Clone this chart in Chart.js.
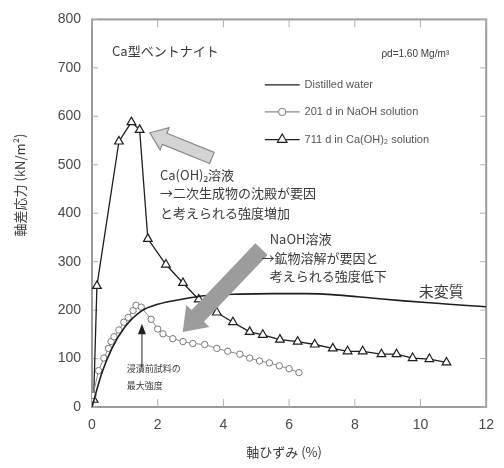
<!DOCTYPE html>
<html>
<head>
<meta charset="utf-8">
<script src="https://cdn.jsdelivr.net/npm/chart.js@4/dist/chart.umd.min.js"></script>
<style>
  html, body { margin: 0; padding: 0; background: #fff; }
  #wrap { width: 504px; height: 468px; }
</style>
</head>
<body>
<div id="wrap"><canvas id="c" width="504" height="468"></canvas></div>
<script>
// Axial strain (%) and deviator stress (kN/m²) for Ca-type bentonite
const waterStrain = [0, 0.3, 0.6, 1.0, 1.5, 2.0, 2.7, 3.5, 4.5, 5.5, 6.5, 7.5, 8.5, 9.5, 10.5, 11.3, 12];
const waterStress = [0, 70, 120, 165, 198, 212, 222, 230, 233, 234, 234, 231, 225, 219, 214, 210, 207];

const naohStrain = [0.03, 0.2, 0.36, 0.5, 0.58, 0.67, 0.82, 0.97, 1.1, 1.25, 1.34, 1.5, 1.8, 2.0, 2.16, 2.46, 2.77, 3.07, 3.43, 3.8, 4.13, 4.5, 4.8, 5.1, 5.4, 5.7, 6.0, 6.3];
const naohStress = [24, 75, 101, 121, 135, 145, 159, 175, 185, 199, 210, 206, 181, 161, 151, 141, 135, 131, 129, 121, 115, 109, 101, 95, 91, 85, 79, 71];

const caStrain = [0.05, 0.15, 0.82, 1.2, 1.45, 1.7, 2.25, 2.77, 3.25, 3.8, 4.29, 4.8, 5.2, 5.72, 6.26, 6.78, 7.33, 7.78, 8.24, 8.81, 9.27, 9.76, 10.27, 10.79];
const caStress = [15, 250, 548, 588, 572, 347, 294, 256, 222, 195, 175, 155, 149, 139, 135, 129, 121, 115, 115, 109, 109, 101, 99, 92];

const seriesNames = ['Distilled water', '201 d in NaOH solution', '711 d in Ca(OH)\u2082 solution'];
const xTicks = [0, 2, 4, 6, 8, 10, 12];
const yTicks = [0, 100, 200, 300, 400, 500, 600, 700, 800];

const toPoints = (xs, ys) => xs.map((x, i) => ({ x: x, y: ys[i] }));

const JP = '"Noto Sans CJK JP", "Noto Sans", sans-serif';
const TXT = '#3a3a3a';

function arrow(ctx, x1, y1, x2, y2, bodyW, headW, headL) {
  const dx = x2 - x1, dy = y2 - y1;
  const len = Math.hypot(dx, dy);
  const ux = dx / len, uy = dy / len;
  const nx = -uy, ny = ux;
  const bx = x2 - ux * headL, by = y2 - uy * headL;
  ctx.beginPath();
  ctx.moveTo(x1 + nx * bodyW / 2, y1 + ny * bodyW / 2);
  ctx.lineTo(bx + nx * bodyW / 2, by + ny * bodyW / 2);
  ctx.lineTo(bx + nx * headW / 2, by + ny * headW / 2);
  ctx.lineTo(x2, y2);
  ctx.lineTo(bx - nx * headW / 2, by - ny * headW / 2);
  ctx.lineTo(bx - nx * bodyW / 2, by - ny * bodyW / 2);
  ctx.lineTo(x1 - nx * bodyW / 2, y1 - ny * bodyW / 2);
  ctx.closePath();
}

const framePlugin = {
  id: 'frame',
  beforeDatasetsDraw(chart) {
    const { ctx, chartArea: a, scales } = chart;
    ctx.save();
    ctx.strokeStyle = '#9a9a9a';
    ctx.lineWidth = 2;
    ctx.strokeRect(a.left, a.top, a.right - a.left, a.bottom - a.top);
    ctx.lineWidth = 1;
    ctx.strokeStyle = '#b0b0b0';
    yTicks.forEach(v => {
      const y = scales.y.getPixelForValue(v);
      ctx.beginPath();
      ctx.moveTo(a.left, y); ctx.lineTo(a.left + 6, y);
      ctx.moveTo(a.right, y); ctx.lineTo(a.right - 6, y);
      ctx.stroke();
    });
    xTicks.forEach(v => {
      const x = scales.x.getPixelForValue(v);
      ctx.beginPath();
      ctx.moveTo(x, a.bottom); ctx.lineTo(x, a.bottom - 8);
      ctx.moveTo(x, a.top); ctx.lineTo(x, a.top + 8);
      ctx.stroke();
    });
    ctx.restore();
  }
};

const notesPlugin = {
  id: 'notes',
  afterDatasetsDraw(chart) {
    const { ctx, chartArea: a, scales } = chart;
    const px = v => scales.x.getPixelForValue(v);
    const py = v => scales.y.getPixelForValue(v);
    ctx.save();

    // Ca(OH)2 arrow (outlined, light)
    arrow(ctx, px(3.65), py(514), px(1.76), py(566), 12, 24, 16);
    ctx.fillStyle = '#d4d4d4';
    ctx.fill();
    ctx.strokeStyle = '#8a8a8a';
    ctx.lineWidth = 1.2;
    ctx.stroke();

    // NaOH arrow (solid grey)
    arrow(ctx, px(5.16), py(326), px(2.76), py(155), 17, 32, 22);
    ctx.fillStyle = '#9c9c9c';
    ctx.fill();

    // marker of peak strength
    ctx.strokeStyle = '#222';
    ctx.fillStyle = '#222';
    ctx.lineWidth = 1;
    ctx.beginPath();
    ctx.moveTo(px(1.52), py(80));
    ctx.lineTo(px(1.52), py(160));
    ctx.stroke();
    ctx.beginPath();
    ctx.moveTo(px(1.52), py(172));
    ctx.lineTo(px(1.52) - 4, py(150));
    ctx.lineTo(px(1.52) + 4, py(150));
    ctx.closePath();
    ctx.fill();

    ctx.textBaseline = 'middle';
    ctx.fillStyle = TXT;

    ctx.font = '13px ' + JP;
    ctx.textAlign = 'left';
    ctx.fillText('Ca型ベントナイト', px(0.61), py(735));

    ctx.font = '10px "Liberation Sans", sans-serif';
    ctx.textAlign = 'right';
    ctx.fillText('ρd=1.60 Mg/m³', px(10.87), py(729));

    // Legend
    const rows = [665, 609, 552];
    const ds = chart.data.datasets;
    ctx.textAlign = 'left';
    ctx.font = '11px "Liberation Sans", sans-serif';
    rows.forEach((r, i) => {
      const y = py(r);
      const d = ds[i];
      ctx.strokeStyle = d.borderColor;
      ctx.lineWidth = 1.3;
      ctx.beginPath();
      ctx.moveTo(px(5.26), y);
      ctx.lineTo(px(6.32), y);
      ctx.stroke();
      if (d.pointRadius > 0) {
        ctx.fillStyle = '#fff';
        ctx.strokeStyle = d.pointBorderColor;
        ctx.lineWidth = d.pointBorderWidth;
        Chart.helpers.drawPoint(ctx, { pointStyle: d.pointStyle, radius: d.pointRadius + 0.5, borderWidth: d.pointBorderWidth, rotation: 0 }, (px(5.26) + px(6.32)) / 2, y);
      }
      ctx.fillStyle = '#555';
      ctx.fillText(seriesNames[i], px(6.47), y);
    });

    ctx.fillStyle = TXT;
    ctx.font = '13px ' + JP;
    ctx.fillText('Ca(OH)\u2082溶液', px(2.07), py(478));
    ctx.fillText('→二次生成物の沈殿が要因', px(2.07), py(441));
    ctx.fillText('と考えられる強度増加', px(2.07), py(401));

    ctx.fillText('NaOH溶液', px(5.41), py(347));
    ctx.fillText('→鉱物溶解が要因と', px(5.16), py(308));
    ctx.fillText('考えられる強度低下', px(5.41), py(270));

    ctx.font = '15px ' + JP;
    ctx.textAlign = 'center';
    ctx.fillText('未変質', px(10.63), py(238));

    ctx.font = '9px ' + JP;
    ctx.textAlign = 'left';
    ctx.fillText('浸漬前試料の', px(1.06), py(79));
    ctx.fillText('最大強度', px(1.06), py(44));

    // axis titles
    ctx.font = '13px ' + JP;
    ctx.textAlign = 'center';
    ctx.fillText('軸ひずみ (%)', (a.left + a.right) / 2 - 5, 452);
    ctx.save();
    ctx.translate(20, 185);
    ctx.rotate(-Math.PI / 2);
    ctx.fillText('軸差応力 (kN/m²)', 0, 0);
    ctx.restore();

    ctx.restore();
  }
};

new Chart(document.getElementById('c'), {
  type: 'scatter',
  data: {
    datasets: [
      {
        label: seriesNames[0],
        data: toPoints(waterStrain, waterStress),
        showLine: true,
        borderColor: '#1e1e1e',
        borderWidth: 1.6,
        pointRadius: 0,
        tension: 0.4,
        cubicInterpolationMode: 'monotone'
      },
      {
        label: seriesNames[1],
        data: toPoints(naohStrain, naohStress),
        showLine: true,
        borderColor: '#8a8a8a',
        borderWidth: 1,
        pointStyle: 'circle',
        pointRadius: 3.2,
        pointBorderWidth: 1,
        pointBorderColor: '#7a7a7a',
        pointBackgroundColor: '#fff'
      },
      {
        label: seriesNames[2],
        data: toPoints(caStrain, caStress),
        showLine: true,
        borderColor: '#1e1e1e',
        borderWidth: 1.3,
        pointStyle: 'triangle',
        pointRadius: 5,
        pointBorderWidth: 1.2,
        pointBorderColor: '#1e1e1e',
        pointBackgroundColor: '#fff'
      }
    ]
  },
  options: {
    responsive: false,
    animation: false,
    layout: { padding: { left: 0, right: 17, top: 10, bottom: 0 } },
    plugins: { legend: { display: false }, tooltip: { enabled: false } },
    scales: {
      x: {
        type: 'linear',
        min: 0, max: 12,
        afterBuildTicks: s => { s.ticks = xTicks.map(v => ({ value: v })); },
        afterFit: s => { s.height = 61; },
        grid: { display: false, drawTicks: false },
        border: { display: false },
        ticks: { color: '#4a4a4a', padding: 10, font: { family: '"Liberation Sans", sans-serif', size: 14 } }
      },
      y: {
        type: 'linear',
        min: 0, max: 800,
        afterBuildTicks: s => { s.ticks = yTicks.map(v => ({ value: v })); },
        afterFit: s => { s.width = 92; },
        grid: { display: false, drawTicks: false },
        border: { display: false },
        ticks: { color: '#4a4a4a', padding: 11, font: { family: '"Liberation Sans", sans-serif', size: 14 } }
      }
    }
  },
  plugins: [framePlugin, notesPlugin]
});
</script>
</body>
</html>
